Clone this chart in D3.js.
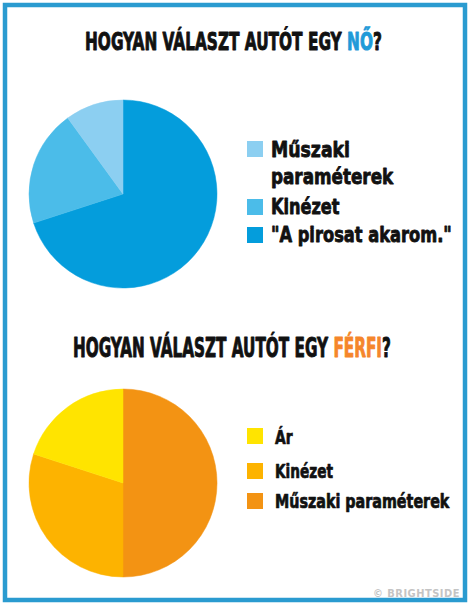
<!DOCTYPE html>
<html><head><meta charset="utf-8">
<script src="https://cdn.jsdelivr.net/npm/d3@7"></script>
<style>
html,body{margin:0;padding:0;background:#fff;}
svg{display:block;}
text{font-family:"Liberation Sans Narrow","DejaVu Sans Condensed","Liberation Sans",sans-serif;font-weight:bold;}
</style></head>
<body>
<script>
// ---- data ----
const womanCategories = ["Műszaki paraméterek", "Kinézet", "\"A pirosat akarom.\""];
const womanValues = [10, 20, 70];
const womanColors = ["#8ccff1", "#4bbce9", "#049ddc"];
const womanLegendLines = [["Műszaki", "paraméterek"], ["Kinézet"], ["\"A pirosat akarom.\""]];

const manCategories = ["Ár", "Kinézet", "Műszaki paraméterek"];
const manValues = [20, 30, 50];
const manColors = ["#ffe400", "#fdb300", "#f39313"];

const title1Parts = ["HOGYAN VÁLASZT AUTÓT EGY ", "NŐ", "?"];
const title2Parts = ["HOGYAN VÁLASZT AUTÓT EGY ", "FÉRFI", "?"];

const W = 474, H = 607;
const svg = d3.select("body").append("svg").attr("width", W).attr("height", H);
svg.append("rect").attr("width", W).attr("height", H).attr("fill", "#fff");
svg.append("rect").attr("x", 5).attr("y", 5).attr("width", 460).attr("height", 595)
  .attr("fill", "none").attr("stroke", "#2a9bd0").attr("stroke-width", 4.5);

// helper: place text, then stretch horizontally to a target width
function fitText(g, x0, baseline, targetW) {
  const w = g.node().getBBox().width;
  g.attr("transform", `translate(${x0},${baseline}) scale(${targetW / w},1)`);
}

function title(parts, accent, x0, baseline, targetW, size) {
  const g = svg.append("g");
  const t = g.append("text").attr("font-size", size).attr("fill", "#111")
    .attr("stroke-width", 0.9).attr("stroke-linejoin", "round");
  parts.forEach((p, i) => {
    const c = i === 1 ? accent : "#111";
    t.append("tspan").text(p).attr("fill", c).attr("stroke", c);
  });
  fitText(g, x0, baseline, targetW);
}

title(title1Parts, "#1f9ad8", 85, 50, 297, 25);
title(title2Parts, "#f5862b", 73, 357, 318, 26);

function pie(values, colors, cx, cy, r) {
  // slices drawn clockwise from 12 o'clock, last legend entry first
  const order = d3.range(values.length).reverse();
  const arcs = d3.pie().sort(null).value(i => values[i])(order);
  const arc = d3.arc().innerRadius(0).outerRadius(r);
  svg.append("g").attr("transform", `translate(${cx},${cy})`)
    .selectAll("path").data(arcs).join("path")
    .attr("d", arc).attr("fill", d => colors[d.data])
    .attr("stroke", d => colors[d.data]).attr("stroke-width", 0.5);
}

pie(womanValues, womanColors, 123, 194, 94);
pie(manValues, manColors, 123, 483, 94);

// legend 1
const leg1 = [
  {c: 0, sq: 141, lines: [[157, 79], [184, 123]]},
  {c: 1, sq: 199, lines: [[214, 69]]},
  {c: 2, sq: 227, lines: [[242, 181]]}
];
leg1.forEach(L => {
  svg.append("rect").attr("x", 247).attr("y", L.sq).attr("width", 16).attr("height", 16)
    .attr("fill", womanColors[L.c]);
  L.lines.forEach((ln, j) => {
    const g = svg.append("g");
    g.append("text").attr("font-size", 22).attr("fill", "#111")
      .attr("stroke", "#111").attr("stroke-width", 0.8).attr("stroke-linejoin", "round")
      .text(womanLegendLines[L.c][j]);
    fitText(g, 271, ln[0], ln[1]);
  });
});

// legend 2
const leg2 = [
  {sq: 428, base: 444, w: 18},
  {sq: 463, base: 478, w: 58},
  {sq: 493, base: 508, w: 175}
];
leg2.forEach((L, i) => {
  svg.append("rect").attr("x", 247).attr("y", L.sq).attr("width", 16).attr("height", 16)
    .attr("fill", manColors[i]);
  const g = svg.append("g");
  g.append("text").attr("font-size", 19).attr("fill", "#111")
    .attr("stroke", "#111").attr("stroke-width", 0.7).attr("stroke-linejoin", "round")
    .text(manCategories[i]);
  fitText(g, 275, L.base, L.w);
});

// watermark
svg.append("text").attr("x", 460).attr("y", 597).attr("text-anchor", "end")
  .attr("font-size", 11).attr("fill", "#c4c4c4").attr("letter-spacing", 0.5)
  .text("© BRIGHTSIDE");
</script>
</body></html>
